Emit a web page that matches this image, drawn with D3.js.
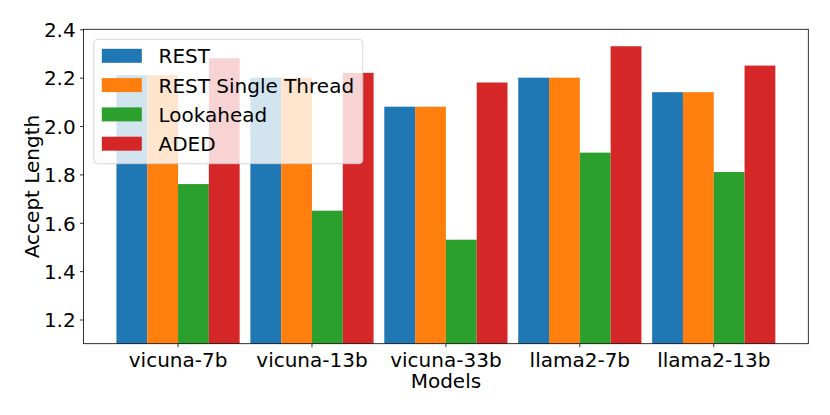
<!DOCTYPE html>
<html>
<head>
<meta charset="utf-8">
<script src="https://cdn.jsdelivr.net/npm/d3@7"></script>
<style>
  body { margin: 0; background: #fff; }
  svg text { font-family: "DejaVu Sans", sans-serif; fill: #000; }
</style>
</head>
<body>
<div id="chart"></div>
<script>
// values
var models = ["vicuna-7b", "vicuna-13b", "vicuna-33b", "llama2-7b", "llama2-13b"];
var seriesNames = ["REST", "REST Single Thread", "Lookahead", "ADED"];
var rest = [2.21, 2.20, 2.08, 2.20, 2.14];
var restSingle = [2.21, 2.20, 2.08, 2.20, 2.14];
var lookahead = [1.76, 1.65, 1.53, 1.89, 1.81];
var aded = [2.28, 2.22, 2.18, 2.33, 2.25];
var yTicks = [1.2, 1.4, 1.6, 1.8, 2.0, 2.2, 2.4];

var colors = ["#1f77b4", "#ff7f0e", "#2ca02c", "#d62728"];
var allValues = [rest, restSingle, lookahead, aded];

var width = 830, height = 415;
var margin = {top: 29.3, right: 21.7, bottom: 71.3, left: 83.5};
var fs = 20;

var svg = d3.select("#chart").append("svg")
  .attr("width", width)
  .attr("height", height);

let x0 = d3.scaleBand()
  .domain(models)
  .range([margin.left, width - margin.right])
  .paddingInner(0.08)
  .paddingOuter(0.246);

let x1 = d3.scaleBand()
  .domain(seriesNames)
  .range([0, x0.bandwidth()]);

let y = d3.scaleLinear()
  .domain([1.1, 2.4])
  .range([height - margin.bottom, margin.top]);

var rows = [];
models.forEach((m, i) => {
  seriesNames.forEach((s, j) => {
    rows.push({model: m, series: s, value: allValues[j][i], color: colors[j]});
  });
});

svg.selectAll("rect.bar")
  .data(rows)
  .enter()
  .append("rect")
  .attr("class", "bar")
  .attr("x", d => x0(d.model) + x1(d.series))
  .attr("width", x1.bandwidth())
  .attr("y", d => y(d.value))
  .attr("height", d => y(1.1) - y(d.value))
  .style("fill", d => d.color);

// axes
let xAxis = d3.axisBottom(x0).tickSize(3.5).tickPadding(3.5).tickSizeOuter(0);
let yAxis = d3.axisLeft(y).tickValues(yTicks).tickFormat(d3.format(".1f"))
  .tickSize(3.5).tickPadding(3.5).tickSizeOuter(0);

let gx = svg.append("g")
  .attr("transform", `translate(0, ${height - margin.bottom})`)
  .call(xAxis);
gx.select(".domain").remove();
gx.selectAll(".tick line").attr("stroke", "#000").attr("stroke-width", 0.8);
gx.selectAll(".tick text")
  .attr("y", null).attr("dy", null)
  .attr("transform", "translate(0, 23)")
  .style("font-size", fs + "px");

let gy = svg.append("g")
  .attr("transform", `translate(${margin.left}, 0)`)
  .call(yAxis);
gy.select(".domain").remove();
gy.selectAll(".tick line").attr("stroke", "#000").attr("stroke-width", 0.8);
gy.selectAll(".tick text")
  .attr("dy", "0.365em")
  .attr("x", -7.8)
  .style("font-size", fs + "px");

// spines
svg.append("rect")
  .attr("x", margin.left)
  .attr("y", margin.top)
  .attr("width", width - margin.left - margin.right)
  .attr("height", height - margin.top - margin.bottom)
  .attr("fill", "none")
  .attr("stroke", "#000")
  .attr("stroke-width", 0.8);

// axis labels
svg.append("text")
  .attr("x", (margin.left + width - margin.right) / 2)
  .attr("y", 388.3)
  .style("text-anchor", "middle")
  .style("font-size", fs + "px")
  .text("Models");

svg.append("text")
  .attr("transform", `translate(38.7, ${(margin.top + height - margin.bottom) / 2}) rotate(-90)`)
  .style("text-anchor", "middle")
  .style("font-size", fs + "px")
  .text("Accept Length");

// legend
let legend = svg.append("g");
legend.append("rect")
  .attr("x", 93.8)
  .attr("y", 39.3)
  .attr("width", 269)
  .attr("height", 124.4)
  .attr("rx", 4)
  .attr("fill", "#fff")
  .attr("fill-opacity", 0.8)
  .attr("stroke", "#ccc")
  .attr("stroke-opacity", 0.8)
  .attr("stroke-width", 1);

let items = legend.selectAll("g.item")
  .data(seriesNames)
  .enter()
  .append("g")
  .attr("class", "item")
  .attr("transform", (d, i) => `translate(0, ${55.8 + i * 29.3})`);

items.append("rect")
  .attr("x", 101.8)
  .attr("y", -7)
  .attr("width", 40)
  .attr("height", 14)
  .style("fill", (d, i) => colors[i]);

items.append("text")
  .attr("x", 158.5)
  .attr("y", 7.5)
  .style("font-size", fs + "px")
  .text(d => d);
</script>
</body>
</html>
